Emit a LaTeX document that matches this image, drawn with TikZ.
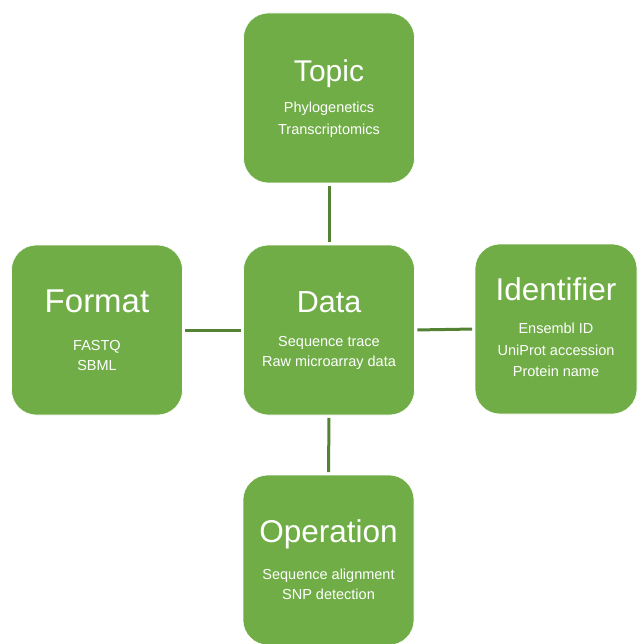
\documentclass[tikz,border=0pt]{standalone}
\usepackage{fontspec}
\setmainfont{Liberation Sans}
\usetikzlibrary{calc}
\definecolor{boxgreen}{HTML}{70AD47}
\definecolor{linegreen}{HTML}{548235}
\begin{document}
\begin{tikzpicture}[x=1pt,y=-1pt,
  box/.style={fill=boxgreen,draw=white,line width=0.6pt,rounded corners=25pt,inner sep=0pt,
    minimum width=#1,minimum height=170pt},
  box/.default=171pt,
  ttl/.style={text=white,anchor=base,inner sep=0pt,font=\fontsize{#1}{34}\selectfont},
  ttl/.default=30,
  sub/.style={text=white,anchor=base,inner sep=0pt,font=\fontsize{14.5}{17}\selectfont},
  link/.style={draw=linegreen,line width=3pt,shorten >=2.5pt,shorten <=2.5pt}]
\useasboundingbox (0,0) rectangle (637,644);
% boxes
\node[box] (topic) at (329,98) {};
\node[box] (format) at (97,330) {};
\node[box] (data) at (329,330) {};
\node[box=162pt] (ident) at (556,329) {};
\node[box] (oper) at (328.5,560) {};
% connectors
\draw[link] (topic.south) -- (data.north);
\draw[link] (format.east) -- (data.west);
\draw[link] (data.east) -- (ident.west);
\draw[link] (data.south) -- (oper.north);
% Topic
\node[ttl=30] (topic-t) at ($(topic.north)+(0,69)$) {Topic};
\node[sub] (topic-s1) at ($(topic.north)+(0,100)$) {Phylogenetics};
\node[sub] (topic-s2) at ($(topic.north)+(0,122)$) {Transcriptomics};
% Format
\node[ttl=33] (format-t) at ($(format.north)+(0,68)$) {Format};
\node[sub] (format-s1) at ($(format.north)+(0,106)$) {FASTQ};
\node[sub] (format-s2) at ($(format.north)+(0,126)$) {SBML};
% Data
\node[ttl=30.5] (data-t) at ($(data.north)+(0,68)$) {Data};
\node[sub] (data-s1) at ($(data.north)+(0,102)$) {Sequence trace};
\node[sub] (data-s2) at ($(data.north)+(0,122)$) {Raw microarray data};
% Identifier
\node[ttl=31.5] (ident-t) at ($(ident.north)+(0,57)$) {Identifier};
\node[sub] (ident-s1) at ($(ident.north)+(0,90)$) {Ensembl ID};
\node[sub] (ident-s2) at ($(ident.north)+(0,112)$) {UniProt accession};
\node[sub] (ident-s3) at ($(ident.north)+(0,133)$) {Protein name};
% Operation
\node[ttl=31.5] (oper-t) at ($(oper.north)+(0,68)$) {Operation};
\node[sub] (oper-s1) at ($(oper.north)+(0,105)$) {Sequence alignment};
\node[sub] (oper-s2) at ($(oper.north)+(0,125)$) {SNP detection};
\end{tikzpicture}
\end{document}
